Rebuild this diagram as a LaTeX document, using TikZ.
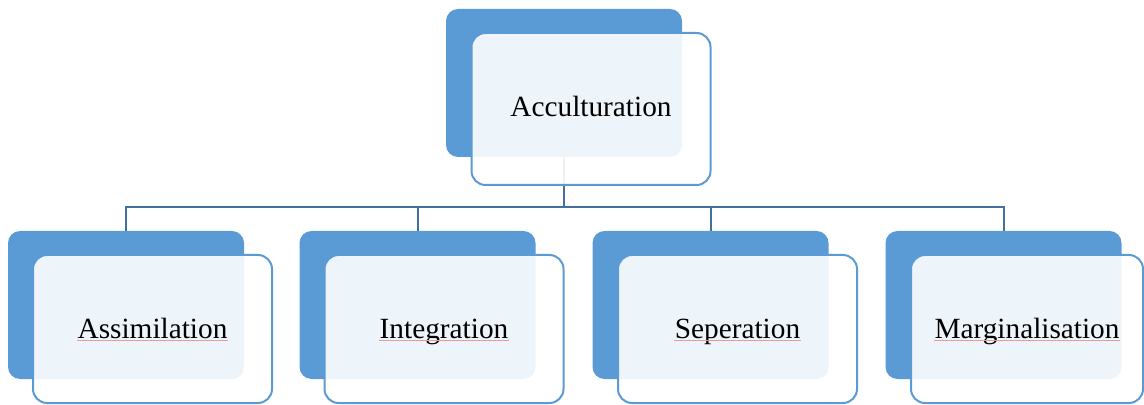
\documentclass[tikz,border=0pt]{standalone}
\usepackage{fontspec}
\setmainfont{Liberation Serif}
\usepackage{tikz}
\usetikzlibrary{backgrounds}

\definecolor{accblue}{HTML}{5B9BD5}
\definecolor{linkblue}{HTML}{41719C}
\definecolor{typored}{RGB}{242,150,150}

\begin{document}
\begin{tikzpicture}[x=0.5pt, y=-0.5pt,
    back/.style={fill=accblue, rounded corners=6pt, minimum width=118pt, minimum height=74pt, inner sep=0pt},
    front/.style={draw=accblue, line width=1pt, fill=white, fill opacity=0.9, rounded corners=7pt, minimum width=119.5pt, minimum height=74pt, inner sep=0pt},
    lbl/.style={font=\fontsize{14.65}{17}\selectfont, inner sep=0pt, anchor=base, yshift=-4.5pt},
    branch/.style={draw=linkblue, line width=1pt},
    typo/.style={draw=typored, draw opacity=1, line width=0.5pt}]
      \useasboundingbox (0,0) rectangle (1144,405);

      \coordinate (hub) at (564,207);

      \node[back] (accB) at (564,83) {};
      \node[back] (asmB) at (126,305) {};
      \node[back] (intB) at (417.5,305) {};
      \node[back] (sepB) at (710.5,305) {};
      \node[back] (marB) at (1003.5,305) {};

      \node[front, minimum height=76pt] (accF) at (591,109) {};
      \node[front] (asmF) at (152.5,329) {};
      \node[front] (intF) at (444,329) {};
      \node[front] (sepF) at (737.5,329) {};
      \node[front, minimum width=116pt] (marF) at (1027,329) {};

      \node[lbl, yshift=0.5pt] (accT) at (accF) {Acculturation};
      \node[lbl] (asmT) at (asmF) {Assimilation};
      \node[lbl] (intT) at (intF) {Integration};
      \node[lbl] (sepT) at (sepF) {Seperation};
      \node[lbl] (marT) at (marF) {Marginalisation};

      % spell-check underlines
      \draw[typo] ([yshift=-1pt]asmT.base west) -- ([yshift=-1pt]asmT.base east);
      \draw[typo] ([yshift=-1pt]intT.base west) -- ([yshift=-1pt]intT.base east);
      \draw[typo] ([yshift=-1pt]sepT.base west) -- ([yshift=-1pt]sepT.base east);
      \draw[typo] ([yshift=-1pt]marT.base west) -- ([yshift=-1pt]marT.base east);

      \begin{scope}[on background layer]
        \draw[branch] (accB.south) -- (hub);
        \draw[branch] (hub) -| (asmB.north);
        \draw[branch] (hub) -| (intB.north);
        \draw[branch] (hub) -| (sepB.north);
        \draw[branch] (hub) -| (marB.north);
      \end{scope}
\end{tikzpicture}
\end{document}
